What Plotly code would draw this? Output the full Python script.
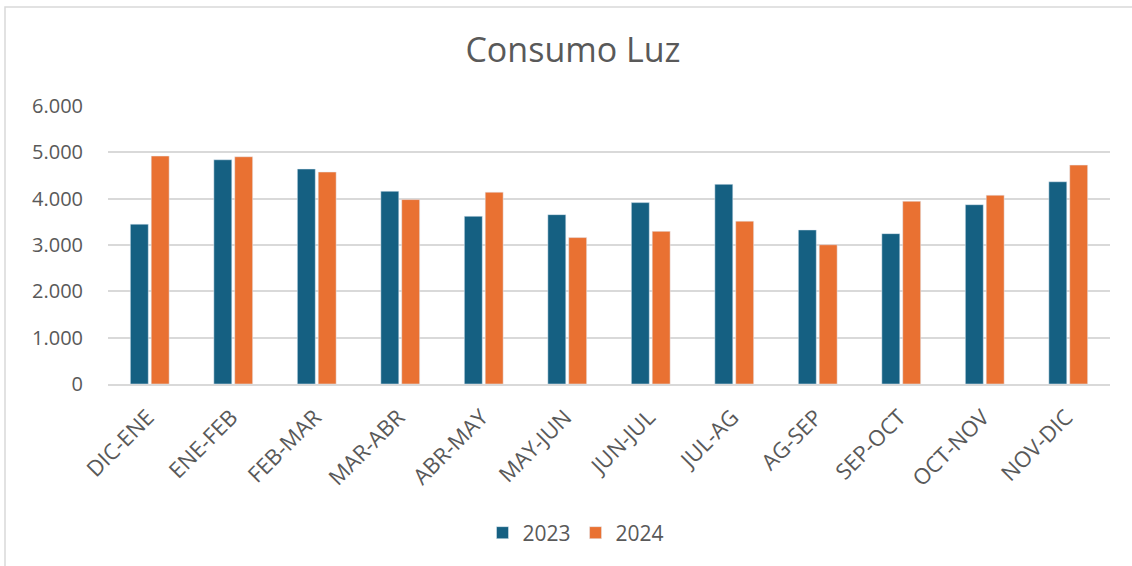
import plotly.graph_objects as go

categories = ["DIC-ENE", "ENE-FEB", "FEB-MAR", "MAR-ABR", "ABR-MAY", "MAY-JUN",
              "JUN-JUL", "JUL-AG", "AG-SEP", "SEP-OCT", "OCT-NOV", "NOV-DIC"]
values_2023 = [3450, 4840, 4640, 4160, 3620, 3655, 3915, 4310, 3325, 3245, 3870, 4365]
values_2024 = [4920, 4905, 4575, 3980, 4140, 3160, 3295, 3515, 3005, 3945, 4075, 4725]
y_ticks = [0, 1000, 2000, 3000, 4000, 5000, 6000]

W, H = 1132, 566
L, R, T, B = 108, 22, 106, 182
pw = W - L - R
ph = H - T - B

fig = go.Figure()
fig.add_trace(go.Bar(name="2023", x=categories, y=values_2023, marker_color="#156082"))
fig.add_trace(go.Bar(name="2024", x=categories, y=values_2024, marker_color="#E97132"))

# chart-area border (left and top visible)
fig.add_shape(type="rect", xref="paper", yref="paper",
              x0=(5 - L) / pw, x1=(W + 10 - L) / pw,
              y0=-(H + 10 - (H - B)) / ph, y1=(H - B - 7) / ph,
              line=dict(color="#D9D9D9", width=1.5), fillcolor="rgba(0,0,0,0)", layer="below")

fig.update_layout(
    width=W, height=H,
    margin=dict(l=L, r=R, t=T, b=B, autoexpand=False),
    paper_bgcolor="white", plot_bgcolor="white",
    separators=",.",
    barmode="group", bargap=0.5, bargroupgap=0.14,
    title=dict(text="Consumo Luz", x=573 / W, xref="container", xanchor="center",
               y=1 - 50 / H, yref="container", yanchor="middle",
               font=dict(family="Open Sans, Liberation Sans, sans-serif", size=34, color="#595959")),
    font=dict(family="Open Sans, Liberation Sans, sans-serif", size=20, color="#595959"),
    legend=dict(orientation="h", x=(576 - L) / pw, xanchor="center",
                y=-(533 - (H - B)) / ph, yanchor="middle",
                font=dict(size=21, color="#595959"), itemwidth=30, traceorder="normal"),
    xaxis=dict(tickangle=-45, showgrid=False, showline=True, linecolor="#D9D9D9", linewidth=1.5,
               ticks="", tickfont=dict(size=22, color="#595959"), automargin=False,
               ticklabelshift=-2, ticklabelstandoff=10),
    yaxis=dict(range=[0, 6000], tickvals=y_ticks, tickformat=",d", showgrid=True,
               gridcolor="#D9D9D9", gridwidth=1.5, zeroline=False, showline=False, ticks="",
               ticklabelstandoff=24, tickfont=dict(size=20, color="#595959"), automargin=False),
)

fig.write_html("out.html", config={"displayModeBar": False},
               post_script="document.body.style.margin='0';document.documentElement.style.overflow='hidden';")
